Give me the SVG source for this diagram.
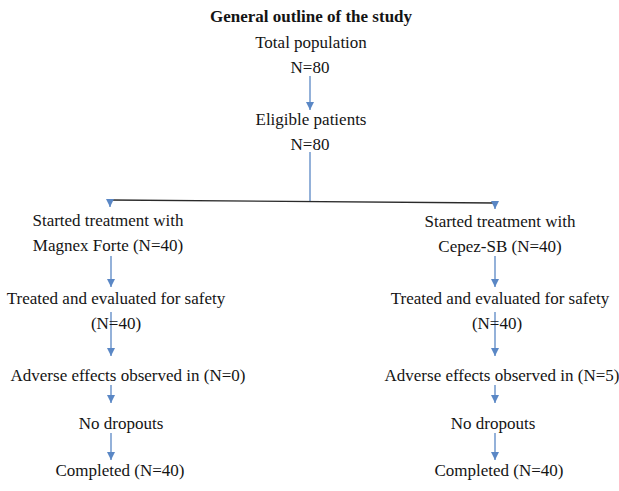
<svg xmlns="http://www.w3.org/2000/svg" width="619" height="491" viewBox="0 0 619 491">
<style>
text{font-family:"Liberation Serif","Times New Roman",serif;font-size:17px;fill:#141414;text-anchor:middle}
.title{font-weight:bold}
.c{stroke:#5a87c5;stroke-width:1.3;fill:none}
.h{stroke:#2a2a2a;stroke-width:1.3;fill:none}
</style>
<defs>
<marker id="ah" markerUnits="userSpaceOnUse" markerWidth="9" markerHeight="8" refX="8" refY="4" orient="auto">
<path d="M0,0 L8,4 L0,8 z" fill="#5a87c5"/>
</marker>
</defs>
<rect width="619" height="491" fill="#ffffff"/>
<g id="connectors">
<line class="c" x1="310" y1="76" x2="310" y2="110" marker-end="url(#ah)"/>
<line class="c" x1="310" y1="152" x2="310" y2="201"/>
<line class="h" x1="110" y1="200" x2="495" y2="203"/>
<line class="c" x1="110" y1="200" x2="110" y2="207" marker-end="url(#ah)"/>
<line class="c" x1="495" y1="203" x2="495" y2="209" marker-end="url(#ah)"/>
<line class="c" x1="111" y1="256" x2="111" y2="287" marker-end="url(#ah)"/>
<line class="c" x1="111" y1="312" x2="111" y2="356" marker-end="url(#ah)"/>
<line class="c" x1="111" y1="385" x2="111" y2="403" marker-end="url(#ah)"/>
<line class="c" x1="111" y1="433" x2="111" y2="460" marker-end="url(#ah)"/>
<line class="c" x1="495" y1="256" x2="495" y2="287" marker-end="url(#ah)"/>
<line class="c" x1="495" y1="312" x2="495" y2="356" marker-end="url(#ah)"/>
<line class="c" x1="495" y1="385" x2="495" y2="403" marker-end="url(#ah)"/>
<line class="c" x1="495" y1="433" x2="495" y2="460" marker-end="url(#ah)"/>
</g>
<g id="title"><text class="title" x="311" y="22">General outline of the study</text></g>
<g id="total"><text x="311" y="48">Total population</text><text x="310" y="73">N=80</text></g>
<g id="eligible"><text x="311" y="125">Eligible patients</text><text x="310" y="150">N=80</text></g>
<g id="left-start"><text x="108" y="226">Started treatment with</text><text x="108" y="251">Magnex Forte (N=40)</text></g>
<g id="left-treated"><text x="116" y="304">Treated and evaluated for safety</text><text x="116" y="329">(N=40)</text></g>
<g id="left-adverse"><text x="128" y="381">Adverse effects observed in (N=0)</text></g>
<g id="left-dropouts"><text x="121" y="429">No dropouts</text></g>
<g id="left-completed"><text x="120" y="476">Completed (N=40)</text></g>
<g id="right-start"><text x="500" y="227">Started treatment with</text><text x="500" y="252">Cepez-SB (N=40)</text></g>
<g id="right-treated"><text x="500" y="304">Treated and evaluated for safety</text><text x="497" y="329">(N=40)</text></g>
<g id="right-adverse"><text x="502" y="381">Adverse effects observed in (N=5)</text></g>
<g id="right-dropouts"><text x="493" y="429">No dropouts</text></g>
<g id="right-completed"><text x="499" y="476">Completed (N=40)</text></g>
</svg>
